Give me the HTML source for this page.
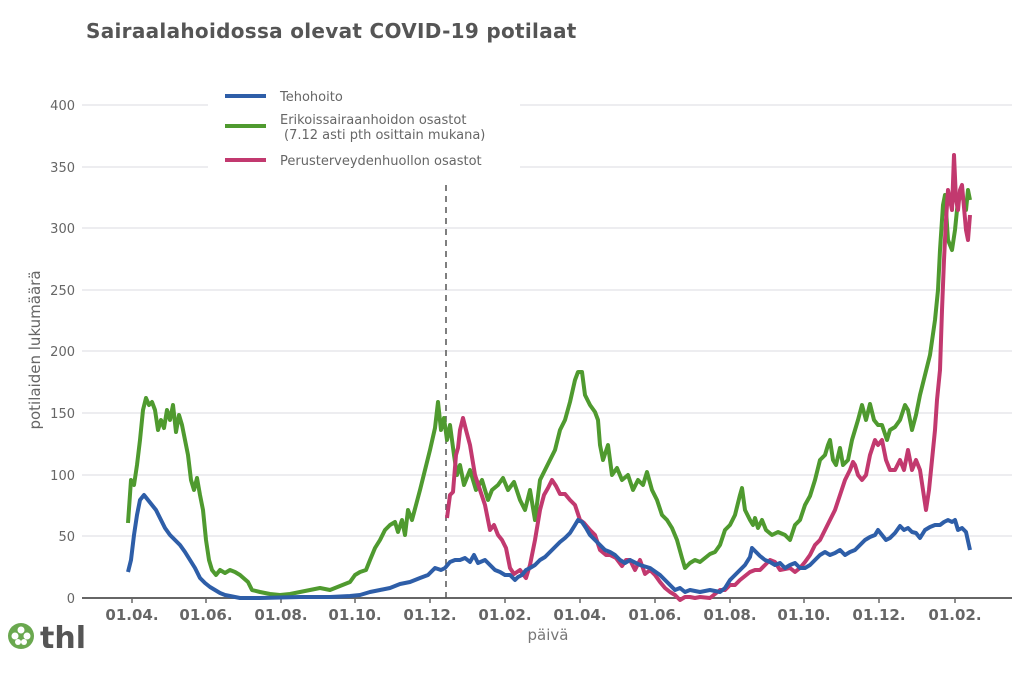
<!DOCTYPE html>
<html><head><meta charset="utf-8"><style>
body{margin:0;background:#fff;width:1024px;height:668px;overflow:hidden;font-family:"Liberation Sans","DejaVu Sans",sans-serif}
</style></head><body>
<svg width="1024" height="668" xmlns="http://www.w3.org/2000/svg" font-family="DejaVu Sans, Liberation Sans, sans-serif">
<text x="86" y="38" font-size="20" font-weight="bold" fill="#555" letter-spacing="0.3">Sairaalahoidossa olevat COVID-19 potilaat</text>
<g stroke="#e2e2e6" stroke-width="1.2">
<line x1="82" x2="1012" y1="105" y2="105"/><line x1="82" x2="1012" y1="167" y2="167"/><line x1="82" x2="1012" y1="228" y2="228"/><line x1="82" x2="1012" y1="290" y2="290"/><line x1="82" x2="1012" y1="351" y2="351"/><line x1="82" x2="1012" y1="413" y2="413"/><line x1="82" x2="1012" y1="475" y2="475"/><line x1="82" x2="1012" y1="536" y2="536"/>
</g>
<line x1="82" x2="1012" y1="598" y2="598" stroke="#666" stroke-width="2"/>
<g font-size="13" fill="#666" text-anchor="end">
<text x="75" y="110">400</text><text x="75" y="172">350</text><text x="75" y="233">300</text><text x="75" y="295">250</text><text x="75" y="356">200</text><text x="75" y="418">150</text><text x="75" y="480">100</text><text x="75" y="541">50</text><text x="75" y="603">0</text>
</g>
<text transform="translate(40,350) rotate(-90)" font-size="15" fill="#666" text-anchor="middle">potilaiden lukumäärä</text>
<g font-size="15" font-weight="bold" fill="#666" text-anchor="middle">
<text x="132" y="620">01.04.</text><text x="206" y="620">01.06.</text><text x="281" y="620">01.08.</text><text x="355" y="620">01.10.</text><text x="430" y="620">01.12.</text><text x="505" y="620">01.02.</text><text x="580" y="620">01.04.</text><text x="655" y="620">01.06.</text><text x="730" y="620">01.08.</text><text x="804" y="620">01.10.</text><text x="879" y="620">01.12.</text><text x="955" y="620">01.02.</text>
</g>
<g stroke="#666" stroke-width="1.5">
<line x1="132" x2="132" y1="598" y2="603"/><line x1="206" x2="206" y1="598" y2="603"/><line x1="281" x2="281" y1="598" y2="603"/><line x1="355" x2="355" y1="598" y2="603"/><line x1="430" x2="430" y1="598" y2="603"/><line x1="505" x2="505" y1="598" y2="603"/><line x1="580" x2="580" y1="598" y2="603"/><line x1="655" x2="655" y1="598" y2="603"/><line x1="730" x2="730" y1="598" y2="603"/><line x1="804" x2="804" y1="598" y2="603"/><line x1="879" x2="879" y1="598" y2="603"/><line x1="955" x2="955" y1="598" y2="603"/>
</g>
<text x="548" y="640" font-size="15" fill="#777" text-anchor="middle">päivä</text>
<line x1="446" x2="446" y1="185" y2="598" stroke="#555" stroke-width="1.5" stroke-dasharray="6,5"/>
<g fill="none" stroke-width="4" stroke-linejoin="round">
<polyline stroke="#4f9a2f" points="128,523 131,480 134,485 137,465 140,440 143,410 146,398 149,405 152,402 155,410 158,430 161,420 164,428 167,410 170,420 173,405 176,432 179,415 182,425 185,440 188,455 191,480 194,490 197,478 200,495 203,510 206,540 209,560 212,570 216,575 220,570 225,573 230,570 235,572 240,575 248,582 252,590 260,592 270,594 280,595 290,594 300,592 310,590 320,588 330,590 340,586 350,582 355,575 360,572 366,570 370,560 375,548 380,540 385,530 390,525 395,522 398,532 402,520 405,535 408,510 412,520 416,505 420,490 425,470 430,450 435,428 438,402 441,430 444,418 447,440 450,425 454,455 457,475 460,465 464,485 470,470 476,490 482,480 488,500 492,490 498,485 503,478 508,490 514,482 520,500 525,510 530,490 535,520 540,480 545,470 550,460 555,450 560,430 565,420 570,402 575,380 578,372 582,372 585,395 590,405 595,412 598,420 600,445 603,460 608,445 612,475 617,468 622,480 628,475 633,490 638,480 643,485 647,472 652,490 657,500 662,515 667,520 672,528 677,540 682,558 685,568 690,563 695,560 700,562 705,558 710,554 715,552 720,545 725,530 730,525 735,515 740,495 742,488 745,510 750,520 753,525 755,518 758,528 762,520 766,530 772,535 778,532 785,535 790,540 795,525 800,520 805,505 810,496 815,480 820,460 825,455 828,445 830,440 833,460 836,465 840,448 843,465 848,460 852,440 858,420 862,405 866,420 870,404 874,420 878,425 882,425 887,440 890,430 895,427 900,420 905,405 908,410 912,430 916,415 920,395 925,375 930,355 935,320 938,290 940,250 943,205 945,195 948,240 952,250 955,230 958,200 962,195 966,210 968,190 970,200"/>
<polyline stroke="#c2396f" points="447,518 450,495 453,492 456,455 458,448 460,430 463,418 466,430 470,445 475,475 480,490 485,505 490,530 494,525 498,535 502,540 506,548 510,568 514,574 520,570 526,578 530,565 535,540 540,510 544,495 548,488 552,480 556,486 560,494 565,494 570,500 575,505 580,520 584,523 590,530 595,535 600,550 606,555 610,555 616,558 622,566 626,560 630,560 635,570 640,560 645,574 650,570 655,575 660,582 665,588 670,592 675,595 680,600 685,597 690,597 695,598 700,597 710,598 715,594 720,590 725,590 730,585 735,585 740,580 745,576 750,572 755,570 760,570 765,565 770,560 775,562 780,570 790,568 795,572 800,568 805,562 810,555 815,545 820,540 825,530 830,520 835,510 840,495 845,480 850,470 853,462 855,465 858,475 862,480 866,475 870,455 875,440 878,445 882,440 886,460 890,470 895,470 900,460 904,470 908,450 912,470 916,460 920,470 923,490 926,510 929,490 932,460 935,430 937,400 940,370 942,310 944,260 946,220 948,190 950,200 952,210 954,155 956,200 958,210 960,190 962,185 966,230 968,240 970,215"/>
<polyline stroke="#2e5ea8" points="128,572 131,560 134,535 137,515 140,500 144,495 148,500 152,505 156,510 160,518 165,528 170,535 175,540 180,545 185,552 190,560 195,568 200,578 205,583 210,587 215,590 220,593 225,595 230,596 240,598 260,598 300,597 330,597 350,596 360,595 370,592 380,590 390,588 400,584 410,582 420,578 428,575 435,568 441,570 445,568 450,562 455,560 460,560 465,558 470,562 474,555 478,563 485,560 490,565 495,570 500,572 505,575 510,575 515,580 518,577 522,575 526,570 530,568 535,565 540,560 545,557 550,552 555,547 560,542 565,538 570,533 575,525 578,520 582,522 586,528 590,535 595,540 600,545 605,550 610,552 615,555 620,560 625,563 630,560 640,565 650,568 660,575 670,585 675,590 680,588 685,592 690,590 700,592 710,590 720,592 725,588 730,580 735,575 740,570 745,565 750,557 752,548 756,552 760,556 765,560 770,562 775,565 780,563 785,568 790,565 795,563 800,568 805,568 810,565 815,560 820,555 825,552 830,555 835,553 840,550 845,555 850,552 855,550 860,545 865,540 870,537 875,535 878,530 882,535 886,540 890,538 895,533 900,526 904,530 908,528 912,532 916,533 920,538 925,530 930,527 935,525 940,525 944,522 948,520 952,522 955,520 958,530 962,528 966,532 970,550"/>
</g>
<rect x="208" y="84" width="312" height="96" fill="#fff"/>
<line x1="225" x2="266" y1="96" y2="96" stroke="#2e5ea8" stroke-width="4"/>
<line x1="225" x2="266" y1="126" y2="126" stroke="#4f9a2f" stroke-width="4"/>
<line x1="225" x2="266" y1="160" y2="160" stroke="#c2396f" stroke-width="4"/>
<g font-size="13" fill="#666">
<text x="280" y="101">Tehohoito</text>
<text x="280" y="124">Erikoissairaanhoidon osastot</text>
<text x="284" y="139">(7.12 asti pth osittain mukana)</text>
<text x="280" y="165">Perusterveydenhuollon osastot</text>
</g>
<g fill="#6aa84f"><circle cx="21" cy="636" r="13"/></g>
<g fill="#fff"><circle cx="21" cy="630" r="3.5"/><circle cx="15" cy="636" r="3.5"/><circle cx="27" cy="636" r="3.5"/><circle cx="18" cy="642" r="3"/><circle cx="24" cy="642" r="3"/></g>
<text x="40" y="648" font-size="30" font-weight="bold" fill="#555">thl</text>
</svg>
</body></html>
